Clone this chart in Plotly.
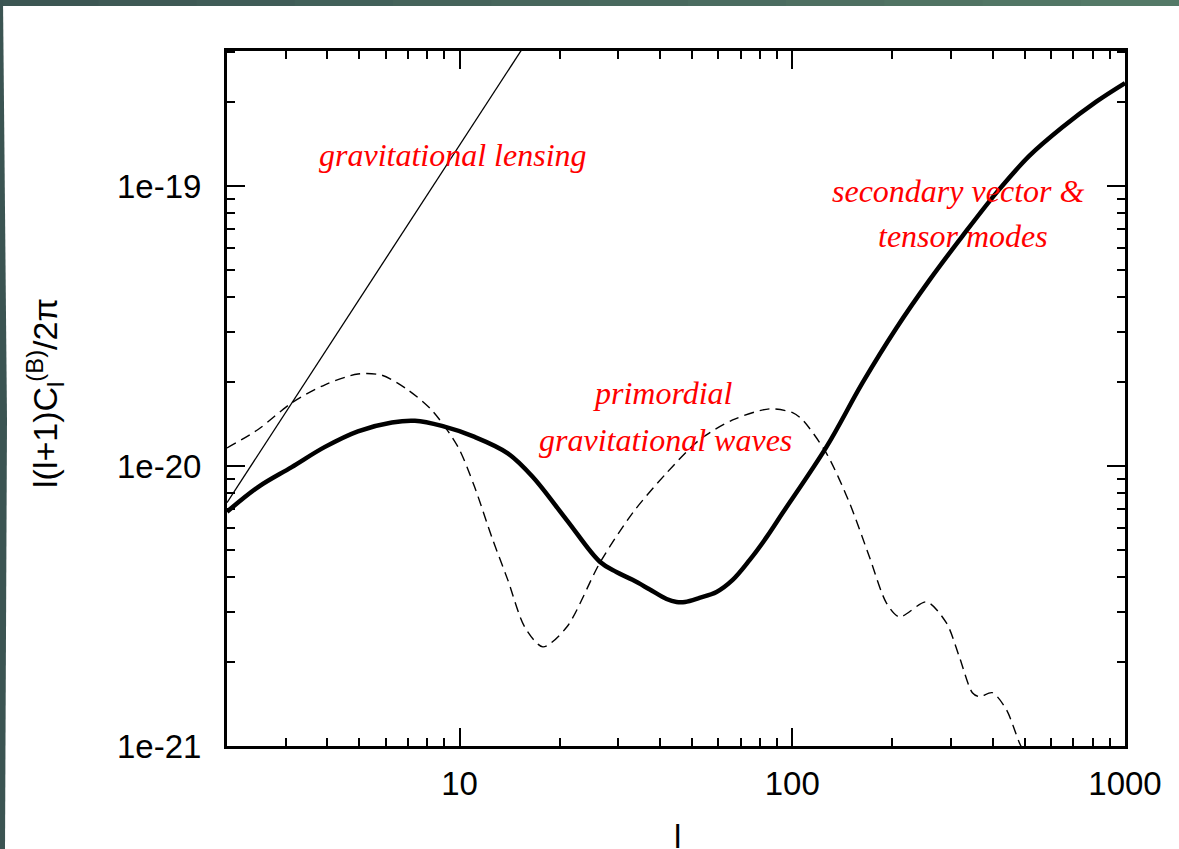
import plotly.graph_objects as go

# ---- data ----
thick_l = [2.0, 2.48, 3.13, 3.94, 4.95, 6.26, 7.34, 8.85, 11.1, 13.96, 16.6, 21.0,
           26.4, 29.6, 33.1, 37.2, 41.9, 44.9, 47.6, 52.6, 59.2, 66.2, 74.4, 83.7,
           93.5, 126.7, 162.5, 205.6, 258.4, 324.6, 410.4, 515.6, 648.1, 820.0, 1000.0]
thick_c = [6.86e-21, 8.41e-21, 9.91e-21, 1.17e-20, 1.33e-20, 1.43e-20, 1.45e-20,
           1.39e-20, 1.27e-20, 1.11e-20, 9.14e-21, 6.41e-21, 4.55e-21, 4.18e-21,
           3.92e-21, 3.63e-21, 3.35e-21, 3.27e-21, 3.27e-21, 3.38e-21, 3.55e-21,
           3.92e-21, 4.61e-21, 5.57e-21, 6.79e-21, 1.17e-20, 1.98e-20, 3.11e-20,
           4.61e-20, 6.62e-20, 9.45e-20, 1.28e-19, 1.62e-19, 2.0e-19, 2.33e-19]

dashed_l = [2.0, 2.48, 3.13, 3.94, 4.95, 5.84, 6.99, 8.26, 9.89, 11.1, 12.5, 13.96,
            15.7, 17.8, 21.0, 26.4, 33.1, 41.9, 52.6, 66.2, 85.4, 100.2, 107.4,
            126.7, 148.6, 170.6, 191.9, 210.0, 253.0, 290.6, 317.8, 347.7, 365.0,
            399.0, 440.0, 481.0, 520.0]
dashed_c = [1.16e-20, 1.35e-20, 1.68e-20, 1.95e-20, 2.13e-20, 2.11e-20, 1.87e-20,
            1.58e-20, 1.17e-20, 8.41e-21, 5.57e-21, 3.92e-21, 2.66e-21, 2.26e-21,
            2.66e-21, 4.51e-21, 6.79e-21, 9.44e-21, 1.24e-20, 1.46e-20, 1.60e-20,
            1.55e-20, 1.46e-20, 1.11e-20, 7.38e-21, 4.73e-21, 3.24e-21, 2.89e-21,
            3.27e-21, 2.75e-21, 2.08e-21, 1.55e-21, 1.50e-21, 1.55e-21, 1.35e-21,
            1.03e-21, 8.5e-22]

thin_l = [2.0, 16.0]
thin_c = [7.4e-21, 3.3e-19]

x_tickvals = [10, 100, 1000]
x_ticktext = ["10", "100", "1000"]
y_tickvals = [1e-21, 1e-20, 1e-19]
y_ticktext = ["1e-21", "1e-20", "1e-19"]

labels = [
    ("gravitational lensing", 0.2517, 0.8504),
    ("secondary vector &", 0.8140, 0.7986),
    ("tensor modes", 0.8196, 0.7338),
    ("primordial", 0.4855, 0.5079),
    ("gravitational waves", 0.4878, 0.4403),
]

W, H = 1179, 849
L, R, T, B = 227, 1125, 51, 746


def px(x):
    return (x - L) / (R - L)


def py(y):
    return (B - y) / (B - T)


fig = go.Figure()
fig.add_trace(go.Scatter(x=thin_l, y=thin_c, mode="lines",
                         line=dict(color="black", width=1.3)))
fig.add_trace(go.Scatter(x=dashed_l, y=dashed_c, mode="lines",
                         line=dict(color="black", width=1.4, dash="10px,6px",
                                   shape="spline", smoothing=0.8)))
fig.add_trace(go.Scatter(x=thick_l, y=thick_c, mode="lines",
                         line=dict(color="black", width=4.5,
                                   shape="spline", smoothing=1.0)))

axis_common = dict(
    showline=True, linecolor="black", linewidth=3, mirror="allticks",
    ticks="inside", ticklen=18, tickwidth=2, tickcolor="black",
    showgrid=False, zeroline=False,
    tickfont=dict(family="Liberation Sans, Arial, sans-serif", size=33, color="black"),
    minor=dict(ticks="inside", ticklen=8, tickwidth=2, tickcolor="black",
               dtick="D1", showgrid=False),
)

fig.update_xaxes(type="log", range=[0.30103, 3.0], tickvals=x_tickvals,
                 ticktext=x_ticktext, ticklabelstandoff=6, **axis_common)
fig.update_yaxes(type="log", range=[-21, -18.518], tickvals=y_tickvals,
                 ticktext=y_ticktext, ticklabelstandoff=16, **axis_common)

annotations = []
for txt, xx, yy in labels:
    annotations.append(dict(
        text="<i>" + txt + "</i>", x=xx, y=yy, xref="paper", yref="paper",
        xanchor="center", yanchor="middle", showarrow=False,
        font=dict(family="Liberation Serif, Times New Roman, serif", size=32, color="red"),
    ))
# axis titles
annotations.append(dict(
    text="l(l+1)C<sub>l</sub><sup>(B)</sup>/2π", x=px(45), y=py(393),
    xref="paper", yref="paper", xanchor="center", yanchor="middle",
    textangle=-90, showarrow=False,
    font=dict(family="Liberation Sans, Arial, sans-serif", size=34, color="black"),
))
annotations.append(dict(
    text="l", x=px(677), y=py(816), xref="paper", yref="paper",
    xanchor="center", yanchor="top", showarrow=False,
    font=dict(family="Liberation Sans, Arial, sans-serif", size=33, color="black"),
))

# slide frame (top and left strips)
shapes = []
n = 12
c0 = (0x3b, 0x55, 0x53)
c1 = (0x56, 0x7b, 0x68)
for i in range(n):
    t = (i + 0.5) / n
    col = "rgb(%d,%d,%d)" % tuple(int(a + (b - a) * t) for a, b in zip(c0, c1))
    shapes.append(dict(type="rect", xref="paper", yref="paper",
                       x0=px(W * i / n), x1=px(W * (i + 1) / n) + 0.002,
                       y0=py(6), y1=py(0), fillcolor=col, line=dict(width=0),
                       layer="above"))
shapes.append(dict(type="path", xref="paper", yref="paper",
                   path="M %f,%f L %f,%f L %f,%f L %f,%f L %f,%f Z" % (
                       px(0), py(0), px(3), py(0), px(7), py(420), px(5), py(849),
                       px(0), py(849)),
                   fillcolor="rgb(59,84,82)", line=dict(width=0), layer="above"))

fig.update_layout(
    width=W, height=H,
    margin=dict(l=L, r=W - R, t=T, b=H - B),
    paper_bgcolor="white", plot_bgcolor="white",
    showlegend=False,
    annotations=annotations,
    shapes=shapes,
)

fig.write_html("out.html")
